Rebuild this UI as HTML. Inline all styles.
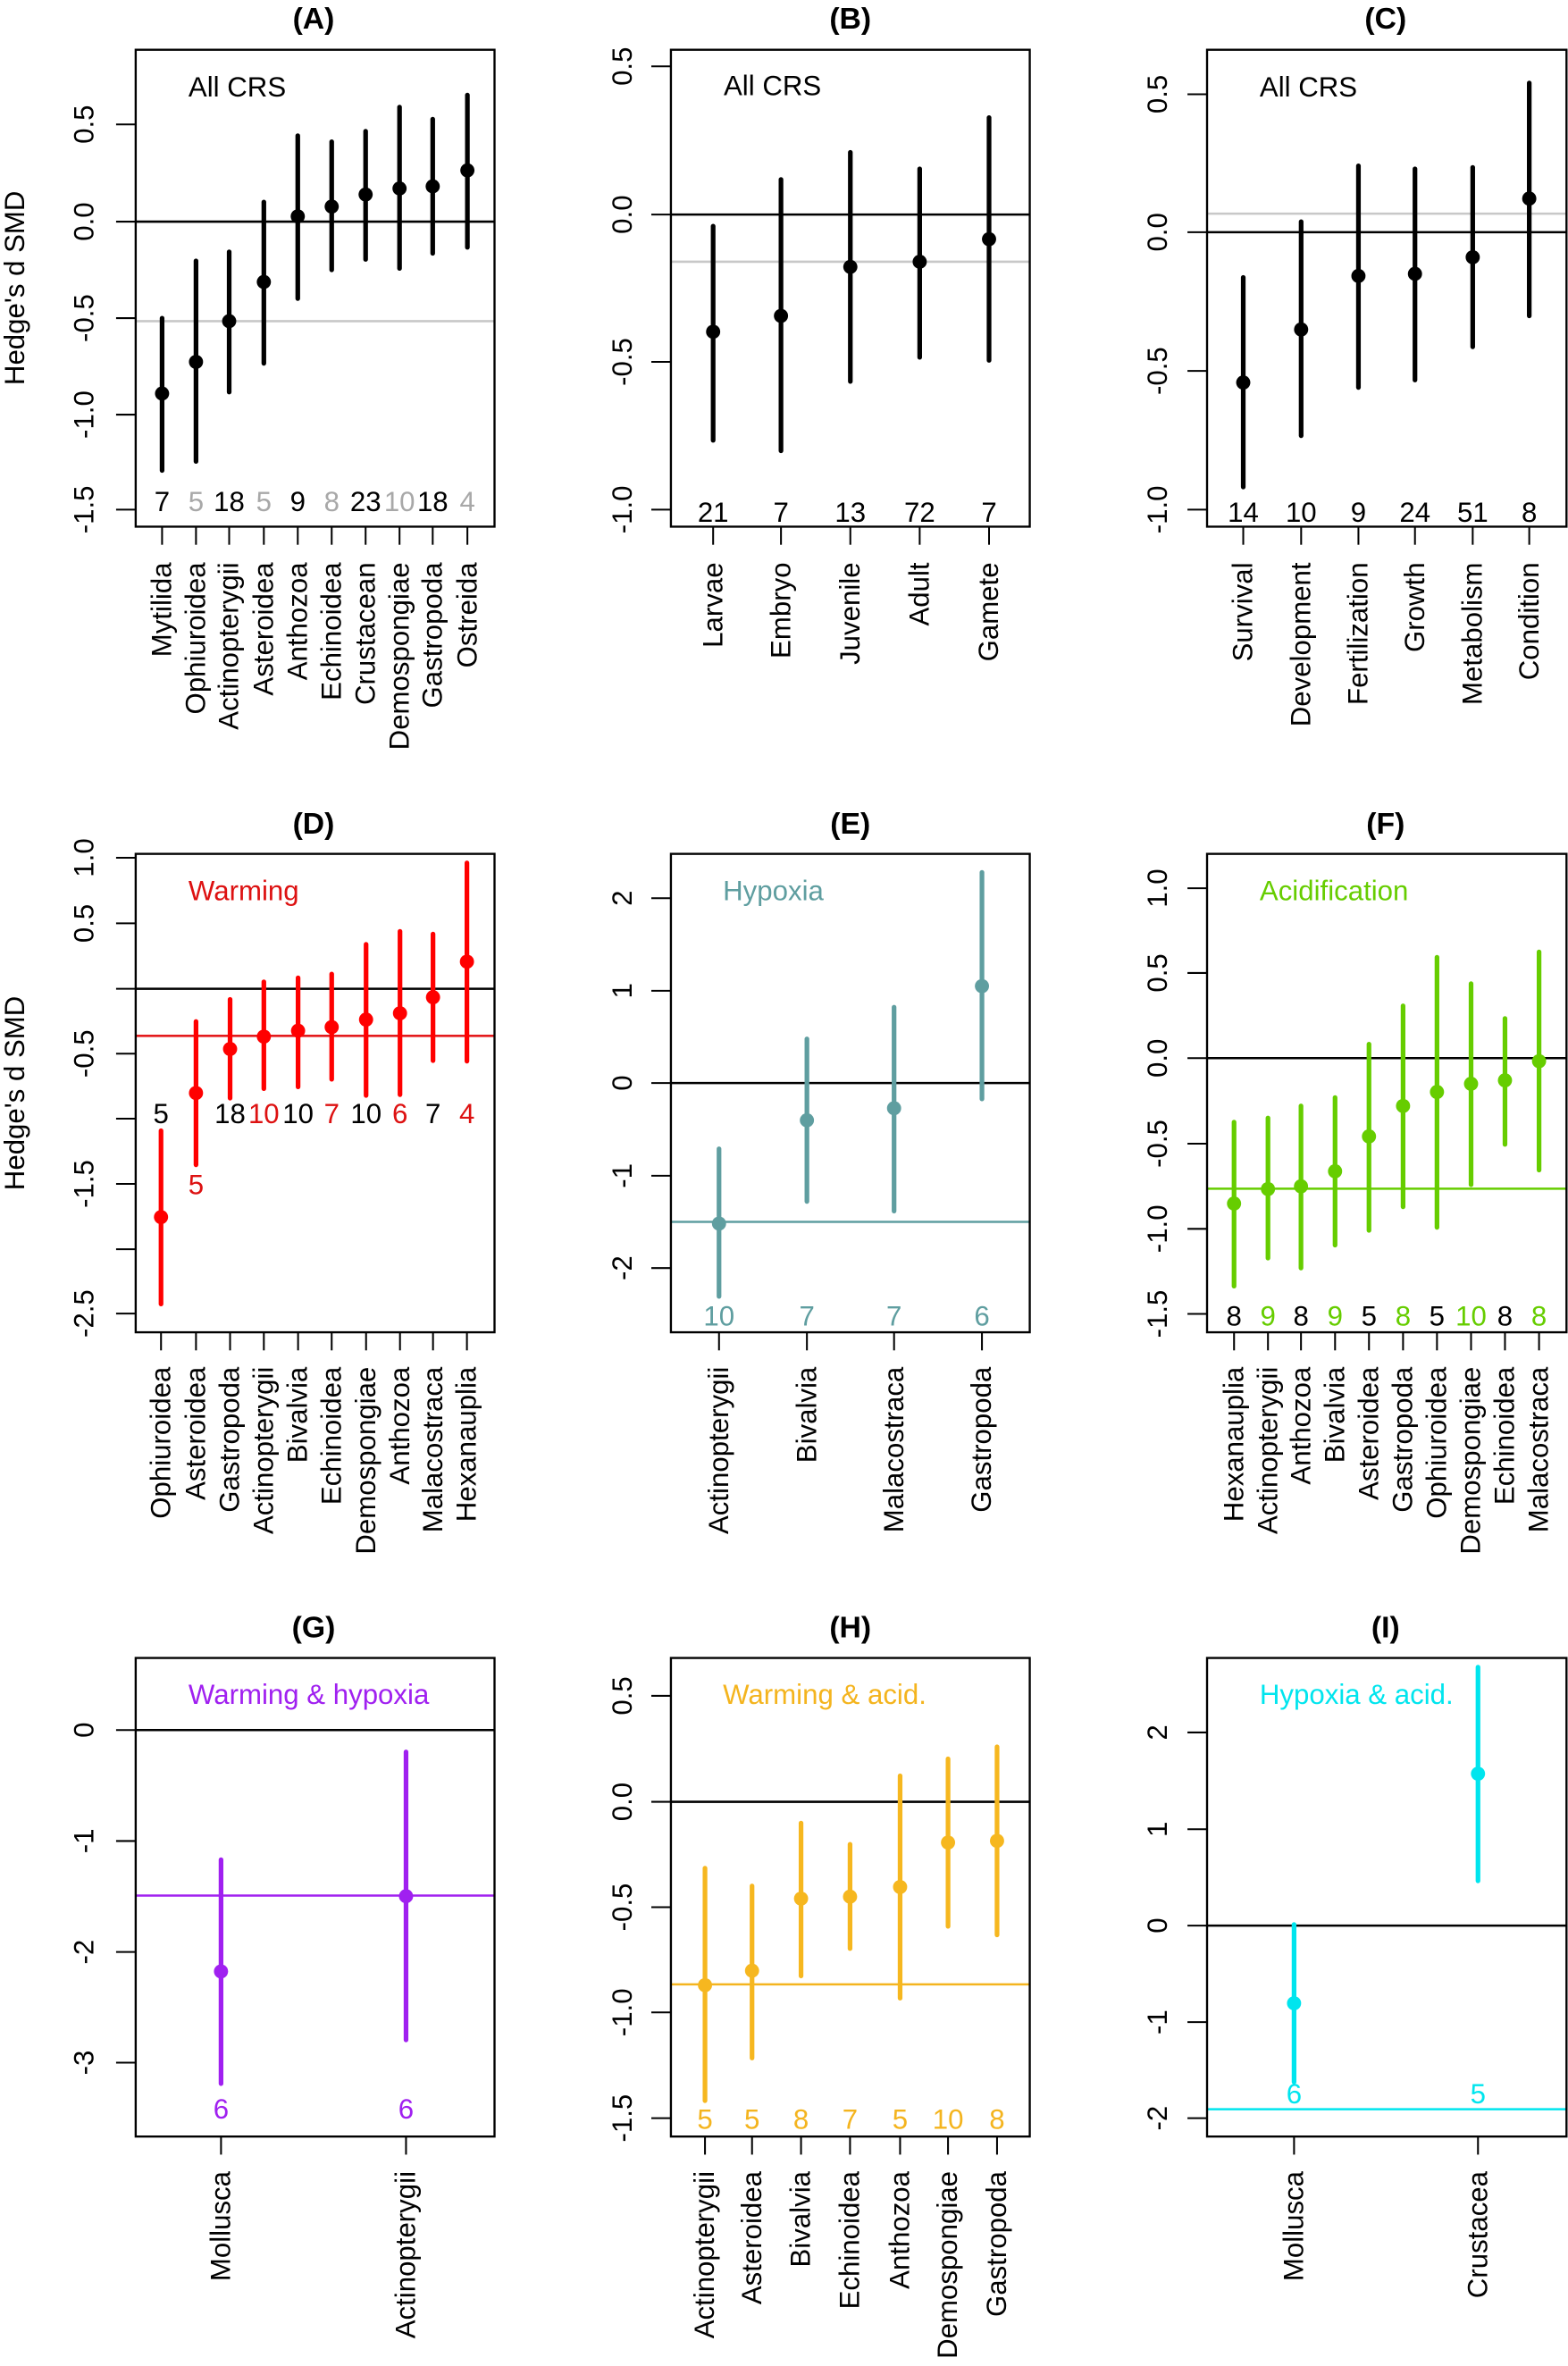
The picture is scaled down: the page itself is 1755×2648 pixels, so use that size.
<!DOCTYPE html>
<html><head><meta charset="utf-8"><style>
html,body{margin:0;padding:0;background:#fff;}
svg{display:block;font-family:"Liberation Sans",Arial,sans-serif;}
</style></head><body>
<svg id="s" width="1755" height="2648" viewBox="0 0 1040 1569.19" preserveAspectRatio="none" xmlns="http://www.w3.org/2000/svg">
<rect width="1040" height="1570" fill="#fff"/>
<g id="shapes"></g>
<g font-size="18.5" fill="#000">
<!-- titles -->
<g font-weight="bold" font-size="20" text-anchor="middle">
<text x="208" y="19">(A)</text><text x="564" y="19">(B)</text><text x="919" y="19">(C)</text>
<text x="208" y="553">(D)</text><text x="564" y="553">(E)</text><text x="919" y="553">(F)</text>
<text x="208" y="1086">(G)</text><text x="564" y="1086">(H)</text><text x="919" y="1086">(I)</text>
</g>
<!-- y axis titles -->
<text transform="translate(16,191) rotate(-90)" text-anchor="middle">Hedge's d SMD</text>
<text transform="translate(16,725) rotate(-90)" text-anchor="middle">Hedge's d SMD</text>
<!-- panel inner labels -->
<text x="125" y="64">All CRS</text>
<text x="480" y="63">All CRS</text>
<text x="835.5" y="64">All CRS</text>
<text x="125" y="597" fill="#dd1111">Warming</text>
<text x="479.5" y="597" fill="#5f9ea0">Hypoxia</text>
<text x="835.5" y="597" fill="#66cd00">Acidification</text>
<text x="125" y="1130" fill="#a020f0">Warming &amp; hypoxia</text>
<text x="479.5" y="1130" fill="#f4b41e">Warming &amp; acid.</text>
<text x="835.5" y="1130" fill="#00e5ee">Hypoxia &amp; acid.</text>
<!-- y tick labels -->
<g text-anchor="middle">
<text transform="translate(62,82.5) rotate(-90)">0.5</text>
<text transform="translate(62,147) rotate(-90)">0.0</text>
<text transform="translate(62,211) rotate(-90)">-0.5</text>
<text transform="translate(62,275) rotate(-90)">-1.0</text>
<text transform="translate(62,338) rotate(-90)">-1.5</text>
<text transform="translate(419,44) rotate(-90)">0.5</text>
<text transform="translate(419,142.3) rotate(-90)">0.0</text>
<text transform="translate(419,240) rotate(-90)">-0.5</text>
<text transform="translate(419,338) rotate(-90)">-1.0</text>
<text transform="translate(774,62.5) rotate(-90)">0.5</text>
<text transform="translate(774,154) rotate(-90)">0.0</text>
<text transform="translate(774,246) rotate(-90)">-0.5</text>
<text transform="translate(774,338) rotate(-90)">-1.0</text>
<text transform="translate(62,568.9) rotate(-90)">1.0</text>
<text transform="translate(62,612.4) rotate(-90)">0.5</text>
<text transform="translate(62,698.8) rotate(-90)">-0.5</text>
<text transform="translate(62,785.2) rotate(-90)">-1.5</text>
<text transform="translate(62,871.2) rotate(-90)">-2.5</text>
<text transform="translate(419,595.7) rotate(-90)">2</text>
<text transform="translate(419,657.1) rotate(-90)">1</text>
<text transform="translate(419,718.3) rotate(-90)">0</text>
<text transform="translate(419,779.8) rotate(-90)">-1</text>
<text transform="translate(419,841) rotate(-90)">-2</text>
<text transform="translate(774,589.1) rotate(-90)">1.0</text>
<text transform="translate(774,645.3) rotate(-90)">0.5</text>
<text transform="translate(774,701.8) rotate(-90)">0.0</text>
<text transform="translate(774,758.5) rotate(-90)">-0.5</text>
<text transform="translate(774,815) rotate(-90)">-1.0</text>
<text transform="translate(774,871.4) rotate(-90)">-1.5</text>
<text transform="translate(62,1147.4) rotate(-90)">0</text>
<text transform="translate(62,1221) rotate(-90)">-1</text>
<text transform="translate(62,1294.6) rotate(-90)">-2</text>
<text transform="translate(62,1368) rotate(-90)">-3</text>
<text transform="translate(419,1124.7) rotate(-90)">0.5</text>
<text transform="translate(419,1195) rotate(-90)">0.0</text>
<text transform="translate(419,1264.9) rotate(-90)">-0.5</text>
<text transform="translate(419,1334.7) rotate(-90)">-1.0</text>
<text transform="translate(419,1404.8) rotate(-90)">-1.5</text>
<text transform="translate(774,1149) rotate(-90)">2</text>
<text transform="translate(774,1213.2) rotate(-90)">1</text>
<text transform="translate(774,1277.1) rotate(-90)">0</text>
<text transform="translate(774,1341.1) rotate(-90)">-1</text>
<text transform="translate(774,1404.8) rotate(-90)">-2</text>
</g>
<!-- n labels -->
<g text-anchor="middle">
<text x="107.5" y="339">7</text><text x="130" y="339" fill="#a8a8a8">5</text><text x="152" y="339">18</text><text x="175" y="339" fill="#a8a8a8">5</text><text x="197.5" y="339">9</text><text x="220" y="339" fill="#a8a8a8">8</text><text x="242.5" y="339">23</text><text x="265" y="339" fill="#a8a8a8">10</text><text x="287" y="339">18</text><text x="310" y="339" fill="#a8a8a8">4</text>
<text x="473" y="346">21</text><text x="518" y="346">7</text><text x="564" y="346">13</text><text x="610" y="346">72</text><text x="656" y="346">7</text>
<text x="824.6" y="346">14</text><text x="863" y="346">10</text><text x="901" y="346">9</text><text x="938.5" y="346">24</text><text x="976.8" y="346">51</text><text x="1014.3" y="346">8</text>
<text x="106.8" y="745">5</text><text x="130" y="792" fill="#dd1111">5</text><text x="152.6" y="745">18</text><text x="175" y="745" fill="#dd1111">10</text><text x="197.7" y="745">10</text><text x="220" y="745" fill="#dd1111">7</text><text x="242.8" y="745">10</text><text x="265.3" y="745" fill="#dd1111">6</text><text x="287.2" y="745">7</text><text x="309.7" y="745" fill="#dd1111">4</text>
<g fill="#5f9ea0"><text x="476.9" y="879">10</text><text x="535.2" y="879">7</text><text x="593" y="879">7</text><text x="651.3" y="879">6</text></g>
<text x="818.5" y="879">8</text><text x="841" y="879" fill="#66cd00">9</text><text x="862.9" y="879">8</text><text x="885.5" y="879" fill="#66cd00">9</text><text x="908" y="879">5</text><text x="930.6" y="879" fill="#66cd00">8</text><text x="953.1" y="879">5</text><text x="975.7" y="879" fill="#66cd00">10</text><text x="998.2" y="879">8</text><text x="1020.8" y="879" fill="#66cd00">8</text>
<g fill="#a020f0"><text x="146.6" y="1405">6</text><text x="269.3" y="1405">6</text></g>
<g fill="#f4b41e"><text x="467.6" y="1412">5</text><text x="498.8" y="1412">5</text><text x="531.3" y="1412">8</text><text x="563.8" y="1412">7</text><text x="597" y="1412">5</text><text x="628.8" y="1412">10</text><text x="661.3" y="1412">8</text></g>
<g fill="#00e5ee"><text x="858.3" y="1395">6</text><text x="980.3" y="1395">5</text></g>
</g>
<!-- x category labels -->
<g text-anchor="end">
<text transform="translate(113.5,373) rotate(-90)">Mytilida</text>
<text transform="translate(136,373) rotate(-90)">Ophiuroidea</text>
<text transform="translate(158,373) rotate(-90)">Actinopterygii</text>
<text transform="translate(181,373) rotate(-90)">Asteroidea</text>
<text transform="translate(203.5,373) rotate(-90)">Anthozoa</text>
<text transform="translate(226,373) rotate(-90)">Echinoidea</text>
<text transform="translate(248.5,373) rotate(-90)">Crustacean</text>
<text transform="translate(271,373) rotate(-90)">Demospongiae</text>
<text transform="translate(293,373) rotate(-90)">Gastropoda</text>
<text transform="translate(316,373) rotate(-90)">Ostreida</text>
<text transform="translate(479,373) rotate(-90)">Larvae</text>
<text transform="translate(524,373) rotate(-90)">Embryo</text>
<text transform="translate(570,373) rotate(-90)">Juvenile</text>
<text transform="translate(616,373) rotate(-90)">Adult</text>
<text transform="translate(662,373) rotate(-90)">Gamete</text>
<text transform="translate(830.6,373) rotate(-90)">Survival</text>
<text transform="translate(869,373) rotate(-90)">Development</text>
<text transform="translate(907,373) rotate(-90)">Fertilization</text>
<text transform="translate(944.5,373) rotate(-90)">Growth</text>
<text transform="translate(982.8,373) rotate(-90)">Metabolism</text>
<text transform="translate(1020.3,373) rotate(-90)">Condition</text>
<text transform="translate(112.8,906.5) rotate(-90)">Ophiuroidea</text>
<text transform="translate(136,906.5) rotate(-90)">Asteroidea</text>
<text transform="translate(158.6,906.5) rotate(-90)">Gastropoda</text>
<text transform="translate(181,906.5) rotate(-90)">Actinopterygii</text>
<text transform="translate(203.7,906.5) rotate(-90)">Bivalvia</text>
<text transform="translate(226,906.5) rotate(-90)">Echinoidea</text>
<text transform="translate(248.8,906.5) rotate(-90)">Demospongiae</text>
<text transform="translate(271.3,906.5) rotate(-90)">Anthozoa</text>
<text transform="translate(293.2,906.5) rotate(-90)">Malacostraca</text>
<text transform="translate(315.7,906.5) rotate(-90)">Hexanauplia</text>
<text transform="translate(482.9,906.5) rotate(-90)">Actinopterygii</text>
<text transform="translate(541.2,906.5) rotate(-90)">Bivalvia</text>
<text transform="translate(599,906.5) rotate(-90)">Malacostraca</text>
<text transform="translate(657.3,906.5) rotate(-90)">Gastropoda</text>
<text transform="translate(824.5,906.5) rotate(-90)">Hexanauplia</text>
<text transform="translate(847,906.5) rotate(-90)">Actinopterygii</text>
<text transform="translate(868.9,906.5) rotate(-90)">Anthozoa</text>
<text transform="translate(891.5,906.5) rotate(-90)">Bivalvia</text>
<text transform="translate(914,906.5) rotate(-90)">Asteroidea</text>
<text transform="translate(936.6,906.5) rotate(-90)">Gastropoda</text>
<text transform="translate(959.1,906.5) rotate(-90)">Ophiuroidea</text>
<text transform="translate(981.7,906.5) rotate(-90)">Demospongiae</text>
<text transform="translate(1004.2,906.5) rotate(-90)">Echinoidea</text>
<text transform="translate(1026.8,906.5) rotate(-90)">Malacostraca</text>
<text transform="translate(152.6,1440) rotate(-90)">Mollusca</text>
<text transform="translate(275.3,1440) rotate(-90)">Actinopterygii</text>
<text transform="translate(473.6,1440) rotate(-90)">Actinopterygii</text>
<text transform="translate(504.8,1440) rotate(-90)">Asteroidea</text>
<text transform="translate(537.3,1440) rotate(-90)">Bivalvia</text>
<text transform="translate(569.8,1440) rotate(-90)">Echinoidea</text>
<text transform="translate(603,1440) rotate(-90)">Anthozoa</text>
<text transform="translate(634.8,1440) rotate(-90)">Demospongiae</text>
<text transform="translate(667.3,1440) rotate(-90)">Gastropoda</text>
<text transform="translate(864.3,1440) rotate(-90)">Mollusca</text>
<text transform="translate(986.3,1440) rotate(-90)">Crustacea</text>
</g>
</g>
</svg>
<script>
var cols=[[90,328],[445,683],[800.6,1039]];
var rows=[[33,349.3],[566.3,883.6],[1099.6,1417]];
var P=[
{c:0,r:0,ticks:[82.5,147,211,275,338],zero:147,ref:213,rc:"#c8c8c8",col:"#000",
 pts:[[107.5,261,211,312],[130,240,173,306],[152,213,167,260],[175,187,134,241],[197.5,143.5,90,198],[220,137,94,179],[242.5,129,87,172],[265,125,71,178],[287,123.6,79,168],[310,113,63,164]]},
{c:1,r:0,ticks:[44,142.3,240,338],zero:142.3,ref:173.6,rc:"#c8c8c8",col:"#000",
 pts:[[473,220,150,292],[518,209.5,119,299],[564,177,101,253],[610,173.6,112,237],[656,158.6,78,239]]},
{c:2,r:0,ticks:[62.5,154,246,338],zero:154,ref:141.7,rc:"#c8c8c8",col:"#000",
 pts:[[824.6,253.7,184,323],[863,218.5,147,289],[901,183,110,257],[938.5,181.6,112,252],[976.8,170.6,111,230],[1014.3,131.7,55,209.5]]},
{c:0,r:1,ticks:[568.9,612.4,655.8,698.8,741.9,785.2,828.5,871.2],zero:655.8,ref:687,rc:"#e41a1c",col:"#ff0000",
 pts:[[106.8,807.2,749.9,864.8],[130,724.9,677.5,772.5],[152.6,695.7,662.8,728.3],[175,687.5,651.2,722],[197.7,683.6,648.5,720.8],[220,681.2,646,715.8],[242.8,676.2,626.3,726.5],[265.3,672,617.7,726],[287.2,661.4,619.5,703.4],[309.7,637.8,572.3,703.8]]},
{c:1,r:1,ticks:[595.7,657.1,718.3,779.8,841],zero:718.3,ref:810.4,rc:"#5f9ea0",col:"#5f9ea0",
 pts:[[476.9,811.5,761.9,859.8],[535.2,743,689,796.8],[593,735,668,803.2],[651.3,654,578.6,728.8]]},
{c:2,r:1,ticks:[589.1,645.3,701.8,758.5,815,871.4],zero:701.8,ref:788.4,rc:"#66cd00",col:"#66cd00",
 pts:[[818.5,798.2,744.2,853],[841,788.6,741.5,834.4],[862.9,786.8,733.5,841],[885.5,776.8,727.9,825.8],[908,753.7,692.5,816],[930.6,733.5,667.1,800.4],[953.1,724.2,634.9,814],[975.7,718.8,652.4,785.7],[998.2,716.5,675.5,759],[1020.8,703.8,631.3,776]]},
{c:0,r:2,ticks:[1147.4,1221,1294.6,1368],zero:1147.4,ref:1257.2,rc:"#a020f0",col:"#a020f0",
 pts:[[146.6,1307.5,1233.4,1381.9],[269.3,1257.6,1161.9,1352.9]]},
{c:1,r:2,ticks:[1124.7,1195,1264.9,1334.7,1404.8],zero:1195,ref:1316.1,rc:"#f4b41e",col:"#f6b71f",
 pts:[[467.6,1316.6,1239,1393.2],[498.8,1307,1250.8,1364.9],[531.3,1259.2,1209.1,1310.5],[563.8,1257.9,1223.2,1292.3],[597,1251.5,1177.8,1325.2],[628.8,1222,1166.5,1277.6],[661.3,1220.9,1158.5,1283.3]]},
{c:2,r:2,ticks:[1149,1213.2,1277.1,1341.1,1404.8],zero:1277.1,ref:1398.9,rc:"#00e5ee",col:"#00e5ee",
 pts:[[858.3,1328.6,1276.4,1380.8],[980.3,1176.4,1105.7,1247.4]]}
];
var h="";
P.forEach(function(p){
 var x0=cols[p.c][0],x1=cols[p.c][1],y0=rows[p.r][0],y1=rows[p.r][1];
 h+='<line x1="'+x0+'" x2="'+x1+'" y1="'+p.zero+'" y2="'+p.zero+'" stroke="#000" stroke-width="1.5"/>';
 h+='<line x1="'+x0+'" x2="'+x1+'" y1="'+p.ref+'" y2="'+p.ref+'" stroke="'+p.rc+'" stroke-width="1.5"/>';
 p.ticks.forEach(function(t){h+='<line x1="'+(x0-13)+'" x2="'+x0+'" y1="'+t+'" y2="'+t+'" stroke="#000" stroke-width="1.2"/>';});
 p.pts.forEach(function(q){
  h+='<line x1="'+q[0]+'" x2="'+q[0]+'" y1="'+y1+'" y2="'+(y1+12)+'" stroke="#000" stroke-width="1.2"/>';
  h+='<line x1="'+q[0]+'" x2="'+q[0]+'" y1="'+q[2]+'" y2="'+q[3]+'" stroke="'+p.col+'" stroke-width="3.1" stroke-linecap="round"/>';
  h+='<circle cx="'+q[0]+'" cy="'+q[1]+'" r="4.7" fill="'+p.col+'"/>';
 });
 h+='<rect x="'+x0+'" y="'+y0+'" width="'+(x1-x0)+'" height="'+(y1-y0)+'" fill="none" stroke="#000" stroke-width="1.4"/>';
});
document.getElementById("shapes").innerHTML=h;
</script>
</body></html>
